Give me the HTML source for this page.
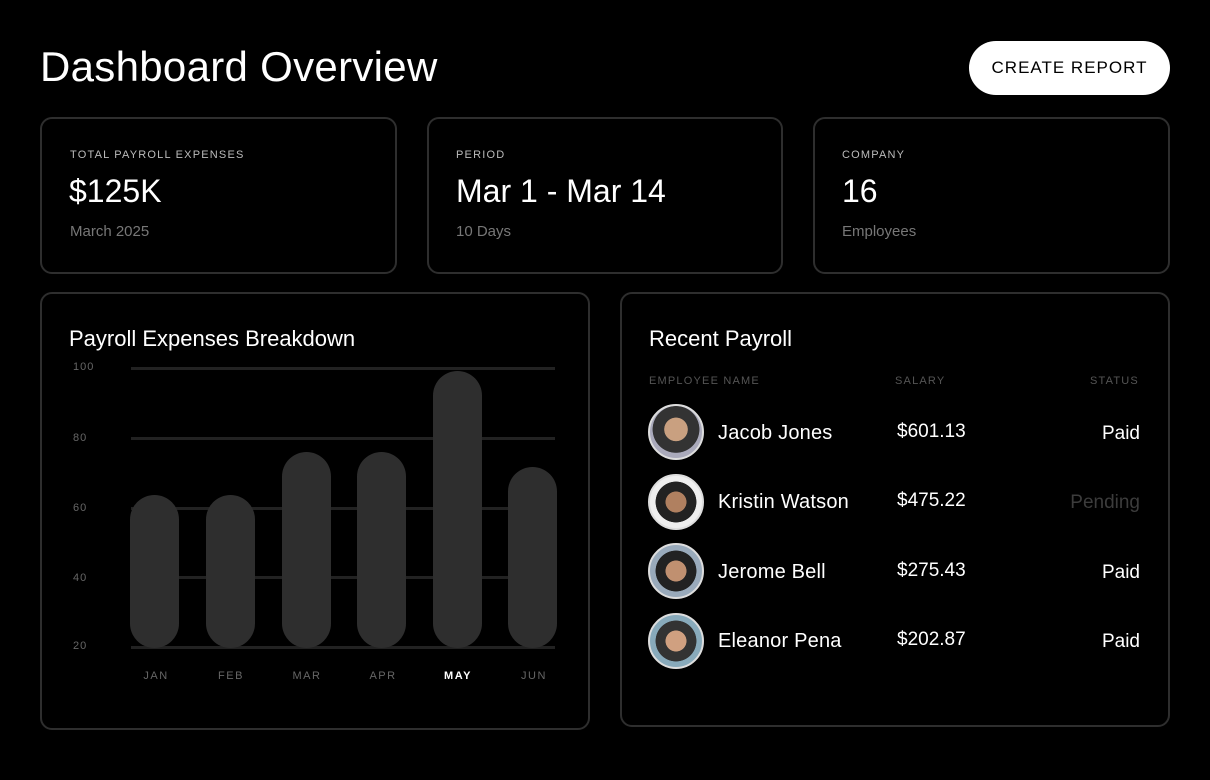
<!DOCTYPE html>
<html><head><style>
body{margin:0;width:1210px;height:780px;background:#000;font-family:"Liberation Sans",sans-serif;color:#fff;position:relative;overflow:hidden}
.a{position:absolute;white-space:nowrap}
.card{position:absolute;border:2px solid #2e2e2e;border-radius:12px;box-sizing:border-box}
.lbl{font-size:11px;letter-spacing:1.2px;color:#bbb}
.big{font-size:32px}
.sub{font-size:15px;color:#777}
.g{position:absolute;left:131px;width:424px;height:3px;background:#222}
.bar{position:absolute;width:49px;background:#2e2e2e;border-radius:25px}
.y{position:absolute;left:73px;font-size:11px;color:#666;letter-spacing:1px}
.m{position:absolute;font-size:11px;color:#666;letter-spacing:1.5px;width:60px;text-align:center}
.av{position:absolute;left:648px;width:56px;height:56px;border-radius:50%;border:2px solid #ddd;box-sizing:border-box;background:radial-gradient(circle at 50% 45%,#c9a080 0 30%,#333 31% 60%,#aab 61%)}
.nm{position:absolute;left:718px;font-size:20px;letter-spacing:0.2px}
.sal{position:absolute;left:897px;font-size:19px}
.st{position:absolute;right:70px;font-size:19px}
</style></head><body>
<div class="a" style="left:40px;top:43px;font-size:42px;letter-spacing:0.3px">Dashboard Overview</div>
<div class="a" style="left:969px;top:41px;width:201px;height:54px;border-radius:27px;background:#fff;color:#000;font-size:17px;letter-spacing:1px;line-height:54px;text-align:center">CREATE REPORT</div>

<div class="card" style="left:40px;top:117px;width:357px;height:157px"></div>
<div class="card" style="left:427px;top:117px;width:356px;height:157px"></div>
<div class="card" style="left:813px;top:117px;width:357px;height:157px"></div>
<div class="a lbl" style="left:70px;top:149px">TOTAL PAYROLL EXPENSES</div>
<div class="a big" style="left:69px;top:173px">$125K</div>
<div class="a sub" style="left:70px;top:223px">March 2025</div>
<div class="a lbl" style="left:456px;top:149px">PERIOD</div>
<div class="a big" style="left:456px;top:173px">Mar 1 - Mar 14</div>
<div class="a sub" style="left:456px;top:223px">10 Days</div>
<div class="a lbl" style="left:842px;top:149px">COMPANY</div>
<div class="a big" style="left:842px;top:173px">16</div>
<div class="a sub" style="left:842px;top:223px">Employees</div>

<div class="card" style="left:40px;top:292px;width:550px;height:438px"></div>
<div class="a" style="left:69px;top:326px;font-size:22px">Payroll Expenses Breakdown</div>
<div class="g" style="top:367px"></div><div class="g" style="top:437px"></div><div class="g" style="top:507px"></div><div class="g" style="top:576px"></div><div class="g" style="top:646px"></div>
<div class="y" style="top:361px">100</div><div class="y" style="top:432px">80</div><div class="y" style="top:502px">60</div><div class="y" style="top:572px">40</div><div class="y" style="top:640px">20</div>
<div class="bar" style="left:130px;top:495px;height:153px"></div>
<div class="bar" style="left:206px;top:495px;height:153px"></div>
<div class="bar" style="left:282px;top:452px;height:196px"></div>
<div class="bar" style="left:357px;top:452px;height:196px"></div>
<div class="bar" style="left:433px;top:371px;height:277px"></div>
<div class="bar" style="left:508px;top:467px;height:181px"></div>
<div class="m" style="left:126px;top:670px">JAN</div><div class="m" style="left:201px;top:670px">FEB</div><div class="m" style="left:277px;top:670px">MAR</div><div class="m" style="left:353px;top:670px">APR</div><div class="m" style="left:428px;top:670px;color:#fff;font-weight:bold">MAY</div><div class="m" style="left:504px;top:670px">JUN</div>

<div class="card" style="left:620px;top:292px;width:550px;height:435px"></div>
<div class="a" style="left:649px;top:326px;font-size:22px">Recent Payroll</div>
<div class="a lbl" style="left:649px;top:375px;color:#555">EMPLOYEE NAME</div>
<div class="a lbl" style="left:895px;top:375px;color:#555">SALARY</div>
<div class="a lbl" style="left:1090px;top:375px;color:#555">STATUS</div>
<div class="av" style="top:404px"></div><div class="nm" style="top:422px">Jacob Jones</div><div class="sal" style="top:421px">$601.13</div><div class="a st" style="top:423px">Paid</div>
<div class="av" style="top:474px;background:radial-gradient(circle at 50% 50%,#b08060 0 28%,#222 29% 55%,#eee 56%)"></div><div class="nm" style="top:491px">Kristin Watson</div><div class="sal" style="top:490px">$475.22</div><div class="a st" style="top:492px;color:#3c3c3c">Pending</div>
<div class="av" style="top:543px;background:radial-gradient(circle at 50% 50%,#c09070 0 28%,#222 29% 55%,#9ab 56%)"></div><div class="nm" style="top:561px">Jerome Bell</div><div class="sal" style="top:560px">$275.43</div><div class="a st" style="top:562px">Paid</div>
<div class="av" style="top:613px;background:radial-gradient(circle at 50% 50%,#d0a080 0 28%,#333 29% 55%,#8ab 56%)"></div><div class="nm" style="top:630px">Eleanor Pena</div><div class="sal" style="top:629px">$202.87</div><div class="a st" style="top:631px">Paid</div>
</body></html>
